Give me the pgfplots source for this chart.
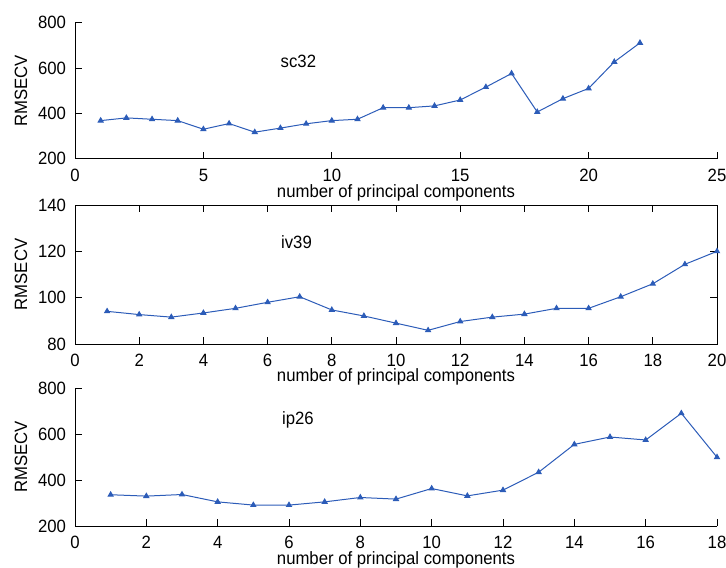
\documentclass[border=0pt]{standalone}
\usepackage{pgfplots}
\pgfplotsset{compat=1.18}
\usepackage{fontspec}
\setmainfont{Liberation Sans}[FakeStretch=0.94]
\definecolor{matblue}{RGB}{44,92,184}

% RMSECV versus number of principal components, one table per data set
\pgfplotstableread{
n rmsecv
1 368
2 380
3 374
4 368
5 330
6 355
7 317
8 335
9 354
10 368
11 374
12 425
13 425
14 433
15 459
16 516
17 576
18 406
19 465
20 510
21 627
22 711
}\scdata
\pgfplotstableread{
n rmsecv
1 94.1
2 92.7
3 91.6
4 93.4
5 95.4
6 98.0
7 100.4
8 94.7
9 92.1
10 89.0
11 85.9
12 89.7
13 91.6
14 92.9
15 95.4
16 95.4
17 100.4
18 106.0
19 114.4
20 120.0
}\ivdata
\pgfplotstableread{
n rmsecv
1 336
2 330
3 337
4 305
5 291
6 291
7 305
8 324
9 317
10 363
11 331
12 356
13 434
14 555
15 587
16 574
17 690
18 499
}\ipdata

\pgfplotsset{
  panel/.style={
    scale only axis, width=321pt,
    tick align=inside, major tick length=3.3pt,
    axis line style={-, line width=0.5pt},
    every tick/.style={black, line width=0.5pt},
    font=\fontsize{8.9}{10}\selectfont,
    /pgf/number format/assume math mode=true,
    /pgf/number format/1000 sep={},
    xticklabel style={anchor=base, yshift=-11.25pt, inner sep=0pt},
    yticklabel style={xshift=-1pt},
    ylabel={RMSECV},
    ylabel style={at={(axis description cs:-0.0841,0.5)}, anchor=center},
    xlabel={number of principal components},
    tick label style={font=\fontsize{8.9}{10}\selectfont},
    label style={font=\fontsize{8.9}{10}\selectfont},
  },
  rms/.style={color=matblue, line width=0.5pt, mark=triangle*, mark size=1.4pt,
    mark options={fill=matblue, draw=matblue}},
}

\begin{document}
\begin{tikzpicture}
\begin{axis}[panel, at={(37.5pt,-11.35pt)}, anchor=north west, height=68pt,
  axis x line*=bottom, axis y line*=left,
  xmin=0, xmax=25, ymin=200, ymax=800,
  xtick={0,5,...,25}, ytick={200,400,600,800},
  xlabel style={at={(axis description cs:0.5,-0.285)}, anchor=base, inner sep=0pt}]
\addplot[rms] table[x=n, y=rmsecv] {\scdata};
\node[font=\fontsize{8.9}{10}\selectfont] at (axis cs:8.7,628) {sc32};
\end{axis}

\begin{axis}[panel, at={(37.5pt,-102.5pt)}, anchor=north west, height=69.5pt,
  xmin=0, xmax=20, ymin=80, ymax=140,
  xtick={0,2,...,20}, ytick={80,100,120,140},
  xlabel style={at={(axis description cs:0.5,-0.27)}, anchor=base, inner sep=0pt}]
\addplot[rms] table[x=n, y=rmsecv] {\ivdata};
\node[font=\fontsize{8.9}{10}\selectfont] at (axis cs:6.9,124) {iv39};
\end{axis}

\begin{axis}[panel, at={(37.5pt,-194pt)}, anchor=north west, height=69pt,
  axis x line*=bottom, axis y line*=left,
  xmin=0, xmax=18, ymin=200, ymax=800,
  xtick={0,2,...,18}, ytick={200,400,600,800},
  xlabel style={at={(axis description cs:0.5,-0.278)}, anchor=base, inner sep=0pt}]
\addplot[rms] table[x=n, y=rmsecv] {\ipdata};
\node[font=\fontsize{8.9}{10}\selectfont] at (axis cs:6.25,661) {ip26};
\end{axis}

\pgfresetboundingbox
\useasboundingbox (0,0) rectangle (363pt,-283.5pt);
\end{tikzpicture}
\end{document}
